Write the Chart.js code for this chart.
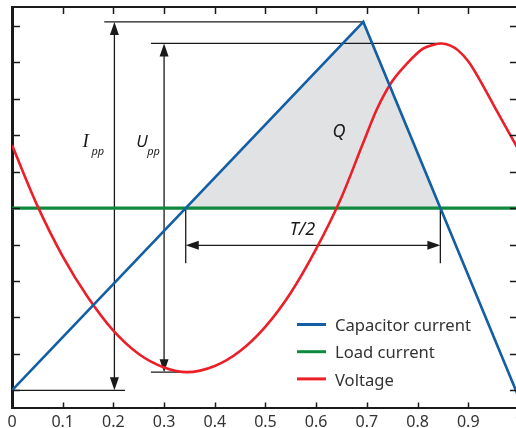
<!DOCTYPE html>
<html><head><meta charset="utf-8">
<script src="https://cdn.jsdelivr.net/npm/chart.js@4/dist/chart.umd.min.js"></script>
<style>
html,body{margin:0;padding:0;background:#fff;overflow:hidden;width:516px;height:428px}
#wrap{position:absolute;left:0;top:0;width:530px;height:428px}
</style>
</head><body><div id="wrap"><canvas id="c"></canvas></div>
<script>
// ---- data ----
const xTicks = [0, 0.1, 0.2, 0.3, 0.4, 0.5, 0.6, 0.7, 0.8, 0.9, 1];
const yTicks = [-5, -4, -3, -2, -1, 0, 1, 2, 3, 4, 5];
const seriesLabels = ['Capacitor current', 'Load current', 'Voltage'];
const capX = [0, 0.693, 1.0];
const capY = [-5, 5.11, -5.2];
const loadX = [0, 1];
const loadY = [0, 0];
const voltX = [0, 0.05, 0.1, 0.15, 0.2, 0.25, 0.3, 0.345, 0.4, 0.45, 0.5, 0.55, 0.6, 0.65, 0.693, 0.72, 0.75, 0.78, 0.81, 0.83, 0.847, 0.865, 0.88, 0.9, 0.919, 0.95, 0.99, 1.0];
const voltY = [1.73, 0.07, -1.32, -2.45, -3.36, -4.0, -4.37, -4.5, -4.33, -3.92, -3.25, -2.32, -1.12, 0.3, 1.8, 2.72, 3.48, 3.98, 4.37, 4.48, 4.52, 4.46, 4.33, 4.03, 3.61, 2.83, 1.83, 1.58];
const qX = [0.3427, 0.693, 0.845];
const qY = [0, 5.11, 0];
// dimension annotations (data units)
const ippX = 0.202, ippTop = 5.11, ippBot = -5;
const ippTopLine = [0.182, 0.693];
const ippBotLine = [0, 0.223];
const uppX = 0.300, uppTop = 4.52, uppBot = -4.5;
const uppTopLine = [0.274, 0.847];
const uppBotLine = [0.274, 0.355];
const halfT = [0.3427, 0.845];
const halfTArrowY = -1.02, halfTLineBot = -1.51;
const textLabels = {I: [0.139, 1.68], U: [0.245, 1.68], Q: [0.645, 2.10], T: [0.573, -0.60]};

const pts = (xs, ys) => xs.map((x, i) => ({x, y: ys[i]}));
const BLUE = '#135fa5', GREEN = '#0f8a3d', RED = '#ec1f28', INK = '#1a1a1a', TXT = '#333333';

function arrowHead(ctx, x, y, ang) {
  const L = 13, W = 4.5;
  ctx.save();
  ctx.translate(x, y); ctx.rotate(ang);
  ctx.beginPath(); ctx.moveTo(0, 0); ctx.lineTo(-L, -W); ctx.lineTo(-L, W); ctx.closePath();
  ctx.fill(); ctx.restore();
}

const annot = {
  id: 'annot',
  afterDatasetDraw(chart, args) {
    if (args.index !== 3) return;
    const ctx = chart.ctx, xs = chart.scales.x, ys = chart.scales.y;
    const X = v => xs.getPixelForValue(v), Y = v => ys.getPixelForValue(v);
    ctx.save();
    ctx.strokeStyle = INK; ctx.fillStyle = INK; ctx.lineWidth = 1.3;
    const line = (x1, y1, x2, y2) => { ctx.beginPath(); ctx.moveTo(x1, y1); ctx.lineTo(x2, y2); ctx.stroke(); };
    line(X(ippTopLine[0]), Y(ippTop), X(ippTopLine[1]), Y(ippTop));
    line(X(ippBotLine[0]), Y(ippBot), X(ippBotLine[1]), Y(ippBot));
    line(X(ippX), Y(ippTop) + 8, X(ippX), Y(ippBot) - 8);
    arrowHead(ctx, X(ippX), Y(ippTop), -Math.PI / 2);
    arrowHead(ctx, X(ippX), Y(ippBot), Math.PI / 2);
    line(X(uppTopLine[0]), Y(uppTop), X(uppTopLine[1]), Y(uppTop));
    line(X(uppBotLine[0]), Y(uppBot), X(uppBotLine[1]), Y(uppBot));
    line(X(uppX), Y(uppTop) + 8, X(uppX), Y(uppBot) - 8);
    arrowHead(ctx, X(uppX), Y(uppTop), -Math.PI / 2);
    arrowHead(ctx, X(uppX), Y(uppBot), Math.PI / 2);
    line(X(halfT[0]), Y(0), X(halfT[0]), Y(halfTLineBot));
    line(X(halfT[1]), Y(0), X(halfT[1]), Y(halfTLineBot));
    line(X(halfT[0]) + 8, Y(halfTArrowY), X(halfT[1]) - 8, Y(halfTArrowY));
    arrowHead(ctx, X(halfT[0]), Y(halfTArrowY), Math.PI);
    arrowHead(ctx, X(halfT[1]), Y(halfTArrowY), 0);
    ctx.restore();
  },
  afterDraw(chart) {
    const ctx = chart.ctx, xs = chart.scales.x, ys = chart.scales.y, a = chart.chartArea;
    const X = v => xs.getPixelForValue(v), Y = v => ys.getPixelForValue(v);
    ctx.save();
    ctx.strokeStyle = INK; ctx.lineWidth = 1.5;
    yTicks.forEach(v => {
      const p = Math.round(Y(v)) + 0.5;
      ctx.beginPath(); ctx.moveTo(a.left, p); ctx.lineTo(a.left + 8, p); ctx.stroke();
      ctx.beginPath(); ctx.moveTo(a.right, p); ctx.lineTo(a.right - 9, p); ctx.stroke();
    });
    xTicks.forEach(v => {
      if (v === 0 || v === 1) return;
      const p = Math.round(X(v)) + 0.5;
      ctx.beginPath(); ctx.moveTo(p, a.top); ctx.lineTo(p, a.top + 7); ctx.stroke();
      ctx.beginPath(); ctx.moveTo(p, a.bottom); ctx.lineTo(p, a.bottom - 5); ctx.stroke();
    });
    ctx.fillStyle = INK; ctx.textBaseline = 'alphabetic'; ctx.textAlign = 'left';
    ctx.font = 'italic 19px "Liberation Serif"';
    ctx.fillText('I', X(textLabels.I[0]), Y(textLabels.I[1]));
    ctx.font = 'italic 11px "Noto Sans"';
    ctx.fillText('pp', X(textLabels.I[0]) + 9, Y(textLabels.I[1]) + 8);
    ctx.font = 'italic 17px "Noto Sans"';
    ctx.fillText('U', X(textLabels.U[0]), Y(textLabels.U[1]));
    ctx.font = 'italic 11px "Noto Sans"';
    ctx.fillText('pp', X(textLabels.U[0]) + 11, Y(textLabels.U[1]) + 8);
    ctx.textAlign = 'center'; ctx.textBaseline = 'middle';
    ctx.font = 'italic 18px "Noto Sans"';
    ctx.fillText('Q', X(textLabels.Q[0]), Y(textLabels.Q[1]));
    ctx.fillText('T/2', X(textLabels.T[0]), Y(textLabels.T[1]));
    const cols = [BLUE, GREEN, RED];
    ctx.textAlign = 'left'; ctx.font = '16.6px "Noto Sans"'; ctx.fillStyle = TXT;
    seriesLabels.forEach((lab, i) => {
      const y = 324.5 + i * 27.2;
      ctx.strokeStyle = cols[i]; ctx.lineWidth = 3;
      ctx.beginPath(); ctx.moveTo(297, y); ctx.lineTo(326, y); ctx.stroke();
      ctx.fillStyle = TXT;
      ctx.fillText(lab, 335, y + 2);
    });
    ctx.restore();
  }
};

new Chart(document.getElementById('c'), {
  type: 'line',
  data: {
    datasets: [
      {label: seriesLabels[0], data: pts(capX, capY), borderColor: BLUE, borderWidth: 2.6, pointRadius: 0, tension: 0, order: 0},
      {label: seriesLabels[1], data: pts(loadX, loadY), borderColor: GREEN, borderWidth: 3.2, pointRadius: 0, tension: 0, order: 2},
      {label: seriesLabels[2], data: pts(voltX, voltY), borderColor: RED, borderWidth: 2.6, pointRadius: 0, cubicInterpolationMode: 'monotone', order: 1},
      {label: 'Q', data: pts(qX, qY), borderWidth: 0, borderColor: 'rgba(0,0,0,0)', backgroundColor: '#e1e2e4', fill: 'origin', pointRadius: 0, tension: 0, order: 3}
    ]
  },
  options: {
    responsive: true, maintainAspectRatio: false, animation: false,
    layout: {padding: {left: 12, right: 9, top: 7, bottom: 0}},
    plugins: {legend: {display: false}, tooltip: {enabled: false}},
    scales: {
      x: {type: 'linear', min: 0, max: 1,
        afterBuildTicks: s => { s.ticks = xTicks.map(v => ({value: v})); },
        afterFit: s => { s.height = 20.5; },
        ticks: {padding: 6.5, color: TXT, font: {family: 'Noto Sans', size: 16, lineHeight: 1}, callback: v => String(v), maxRotation: 0, autoSkip: false},
        grid: {display: false, drawTicks: false},
        border: {display: true, color: INK, width: 2}},
      xTop: {type: 'linear', position: 'top', min: 0, max: 1,
        ticks: {display: false}, grid: {display: false, drawTicks: false},
        border: {display: true, color: INK, width: 2}},
      y: {type: 'linear', min: -5.47, max: 5.52,
        afterBuildTicks: s => { s.ticks = yTicks.map(v => ({value: v})); },
        ticks: {display: false}, grid: {display: false, drawTicks: false},
        border: {display: true, color: INK, width: 3}}
    }
  },
  plugins: [annot]
});
</script>
</body></html>
